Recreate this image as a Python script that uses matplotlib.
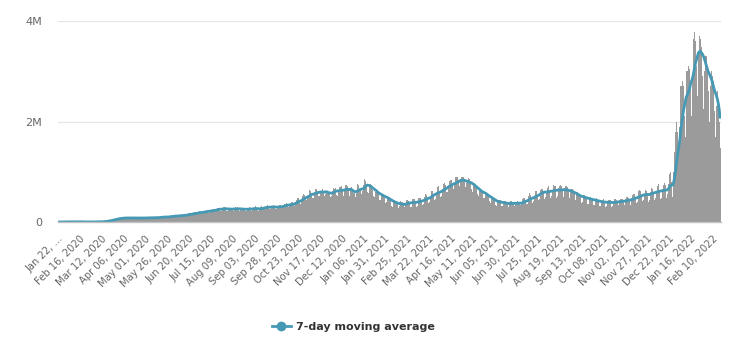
import matplotlib
matplotlib.use("Agg")
import matplotlib.pyplot as plt
import matplotlib.transforms as mtransforms
from matplotlib.lines import Line2D
import numpy as np
import pandas as pd

# ---------------- data ----------------
start_date = "2020-01-22"

# daily new cases, in thousands, one row per week (Wed..Tue)
daily_cases_k = [
    0, 0.1, 0.3, 0.5, 0.7, 0.8, 1.8,
    1.7, 2.1, 2.0, 2.1, 2.6, 3.0, 3.2,
    3.9, 3.7, 3.2, 3.4, 2.7, 2.5, 2.0,
    0.4, 15.1, 6.5, 2.1, 2.6, 2.1, 1.9,
    0.5, 0.6, 1.0, 0.7, 0.9, 0.6, 0.9,
    1.1, 1.4, 1.7, 2.0, 1.8, 2.5, 2.1,
    2.4, 2.7, 3.9, 3.9, 3.6, 4.2, 4.9,
    7.3, 7.4, 10.8, 11.0, 13.5, 16.9, 14.8,
    19.5, 27.1, 31.9, 31.1, 33.4, 41.5, 40.4,
    49.6, 61.8, 64.7, 65.2, 57.1, 60.0, 75.7,
    78.1, 81.3, 82.0, 77.9, 75.1, 70.1, 78.5,
    85.6, 89.6, 89.4, 78.1, 72.6, 74.0, 72.8,
    82.3, 96.4, 87.6, 83.0, 75.5, 68.6, 75.1,
    81.0, 85.4, 85.3, 83.2, 74.5, 74.2, 75.9,
    82.0, 85.0, 91.9, 83.7, 78.1, 75.0, 80.6,
    93.4, 90.1, 94.8, 86.9, 76.9, 75.2, 83.3,
    88.0, 96.5, 97.7, 95.9, 86.8, 90.3, 95.9,
    104, 106, 107, 103, 97, 88, 92,
    105, 119, 128, 124, 102, 101, 112,
    122, 132, 130, 133, 109, 109, 125,
    137, 139, 143, 144, 128, 118, 148,
    144, 148, 174, 171, 142, 141, 166,
    176, 175, 191, 188, 166, 165, 179,
    207, 210, 200, 198, 187, 171, 207,
    217, 231, 235, 215, 189, 196, 231,
    241, 245, 257, 242, 209, 217, 243,
    288, 282, 284, 255, 217, 227, 254,
    294, 291, 290, 266, 213, 211, 259,
    276, 287, 282, 259, 228, 225, 266,
    289, 287, 294, 254, 211, 229, 272,
    281, 265, 269, 264, 212, 218, 260,
    285, 279, 290, 261, 222, 233, 268,
    279, 291, 316, 264, 230, 210, 238,
    295, 289, 324, 289, 254, 263, 283,
    312, 320, 330, 302, 258, 267, 294,
    309, 339, 338, 291, 249, 254, 303,
    325, 335, 342, 296, 271, 285, 339,
    354, 364, 375, 347, 296, 297, 326,
    383, 404, 406, 354, 324, 356, 384,
    438, 471, 472, 433, 358, 398, 468,
    512, 558, 537, 483, 444, 481, 503,
    580, 635, 622, 569, 476, 487, 555,
    640, 653, 661, 609, 519, 509, 594,
    624, 660, 662, 599, 519, 550, 584,
    618, 575, 614, 603, 494, 513, 614,
    676, 656, 684, 642, 541, 512, 626,
    693, 694, 716, 648, 540, 519, 659,
    736, 730, 718, 640, 519, 570, 636,
    700, 640, 580, 610, 500, 570, 690,
    750, 730, 650, 630, 550, 610, 730,
    780, 850, 820, 760, 600, 580, 690,
    740, 760, 730, 640, 520, 490, 600,
    637, 626, 619, 559, 428, 434, 529,
    566, 567, 542, 487, 380, 395, 450,
    490, 490, 468, 432, 316, 305, 401,
    426, 413, 425, 365, 292, 286, 328,
    410, 402, 389, 353, 292, 285, 377,
    439, 442, 424, 390, 298, 304, 387,
    448, 456, 450, 399, 303, 317, 426,
    473, 483, 474, 416, 342, 359, 489,
    542, 548, 530, 463, 369, 407, 522,
    623, 652, 620, 543, 447, 463, 563,
    700, 720, 660, 600, 500, 520, 650,
    760, 780, 740, 690, 600, 600, 740,
    808, 827, 838, 773, 683, 651, 762,
    886, 893, 893, 844, 725, 739, 819,
    902, 905, 893, 827, 703, 683, 770,
    830, 884, 853, 778, 666, 596, 706,
    752, 760, 740, 672, 555, 514, 608,
    639, 656, 637, 600, 484, 476, 536,
    563, 560, 546, 505, 416, 388, 466,
    487, 467, 465, 423, 335, 316, 404,
    440, 440, 430, 390, 320, 310, 390,
    410, 410, 400, 365, 305, 295, 390,
    410, 420, 405, 370, 315, 305, 395,
    405, 421, 407, 372, 330, 300, 405,
    451, 485, 470, 430, 357, 362, 469,
    511, 569, 532, 484, 388, 410, 523,
    576, 625, 608, 540, 439, 460, 638,
    661, 692, 664, 586, 452, 491, 626,
    684, 709, 685, 608, 472, 508, 643,
    730, 725, 708, 634, 480, 514, 680,
    714, 727, 723, 654, 490, 504, 673,
    720, 712, 701, 623, 471, 485, 633,
    660, 650, 637, 577, 428, 432, 548,
    596, 578, 566, 499, 385, 393, 531,
    534, 545, 522, 460, 365, 358, 485,
    507, 503, 487, 434, 337, 336, 441,
    479, 474, 455, 407, 311, 311, 415,
    446, 454, 441, 389, 305, 310, 406,
    444, 439, 437, 385, 296, 316, 405,
    452, 460, 445, 399, 314, 333, 431,
    464, 467, 462, 412, 326, 332, 460,
    499, 504, 484, 435, 345, 355, 486,
    541, 567, 549, 475, 376, 397, 524,
    608, 629, 614, 516, 412, 439, 564,
    641, 638, 611, 533, 395, 446, 592,
    678, 706, 661, 566, 432, 476, 610,
    724, 755, 701, 594, 457, 485, 650,
    740, 770, 740, 600, 470, 560, 760,
    950, 1000, 800, 600, 500, 1000, 1400,
    1800, 2000, 1800, 1400, 1200, 1900, 2700,
    2700, 2800, 2700, 2100, 1700, 2600, 3000,
    3000, 3100, 3050, 2700, 2100, 2900, 3500,
    3650, 3780, 3600, 3100, 2500, 3350, 3700,
    3760, 3650, 3480, 2900, 2250, 3000, 3300,
    3300, 3250, 3100, 2600, 2000, 2700, 3000,
    2900, 2800, 2600, 2200, 1700, 2300, 2600,
    2300, 2000, 1470,
]

tick_labels = [
    "Jan 22, \u2026", "Feb 16, 2020", "Mar 12, 2020", "Apr 06, 2020", "May 01, 2020",
    "May 26, 2020", "Jun 20, 2020", "Jul 15, 2020", "Aug 09, 2020", "Sep 03, 2020",
    "Sep 28, 2020", "Oct 23, 2020", "Nov 17, 2020", "Dec 12, 2020", "Jan 06, 2021",
    "Jan 31, 2021", "Feb 25, 2021", "Mar 22, 2021", "Apr 16, 2021", "May 11, 2021",
    "Jun 05, 2021", "Jun 30, 2021", "Jul 25, 2021", "Aug 19, 2021", "Sep 13, 2021",
    "Oct 08, 2021", "Nov 02, 2021", "Nov 27, 2021", "Dec 22, 2021", "Jan 16, 2022",
    "Feb 10, 2022",
]
tick_step_days = 25

y_ticks = [0, 2_000_000, 4_000_000]
y_tick_labels = ["0", "2M", "4M"]
legend_label = "7-day moving average"

# ---------------- derived ----------------
daily = pd.Series(np.array(daily_cases_k, dtype=float) * 1000.0,
                  index=pd.date_range(start_date, periods=len(daily_cases_k), freq="D"))
avg7 = daily.rolling(7, min_periods=1).mean()
x = np.arange(len(daily))

# ---------------- figure ----------------
BAR = "#9b9b9b"
LINE = "#4699b4"
TXT = "#666666"

fig = plt.figure(figsize=(7.52, 3.59), dpi=100)
L, R = 58 / 752, 720.5 / 752
B, T = (359 - 222) / 359, (359 - 21) / 359
ax = fig.add_axes([L, B, R - L, T - B])

ax.bar(x, daily.values, width=1.0, color=BAR, linewidth=0, zorder=2)
ax.plot(x, avg7.values, color=LINE, lw=2, zorder=3, solid_capstyle="round")

ax.set_xlim(-0.5, len(daily) - 0.5)
ax.set_ylim(0, 4_000_000)

for s in ["top", "right", "left"]:
    ax.spines[s].set_visible(False)
ax.spines["bottom"].set_color("#c4c4c4")
ax.spines["bottom"].set_linewidth(1)
ax.spines["bottom"].set_zorder(4)

ax.set_yticks(y_ticks)
ax.set_yticklabels(y_tick_labels)
ax.tick_params(axis="y", length=0, pad=11.5, labelsize=8, labelcolor=TXT)
for yv in y_ticks[1:]:
    ax.axhline(yv, color="#e6e6e6", lw=1, zorder=1)

tick_pos = np.arange(len(tick_labels)) * tick_step_days
ax.set_xticks(tick_pos)
ax.set_xticklabels(tick_labels, rotation=45, ha="right", va="center",
                   rotation_mode="anchor", fontsize=7.2, color=TXT)
ax.tick_params(axis="x", length=0, pad=0)
offset = mtransforms.ScaledTranslation(3 / 100, -15 / 100, fig.dpi_scale_trans)
for lab in ax.get_xticklabels():
    lab.set_transform(lab.get_transform() + offset)

handle = Line2D([], [], color=LINE, lw=2, marker="o", markersize=6,
                markerfacecolor=LINE, markeredgecolor=LINE)
leg = fig.legend([handle], [legend_label], loc="center",
                 bbox_to_anchor=(353 / 752, 1 - 327 / 359), frameon=False,
                 prop={"size": 8, "weight": "bold"}, handlelength=1.7,
                 handletextpad=0.45)
for t in leg.get_texts():
    t.set_color("#333333")

fig.savefig("out.png", dpi=100)
